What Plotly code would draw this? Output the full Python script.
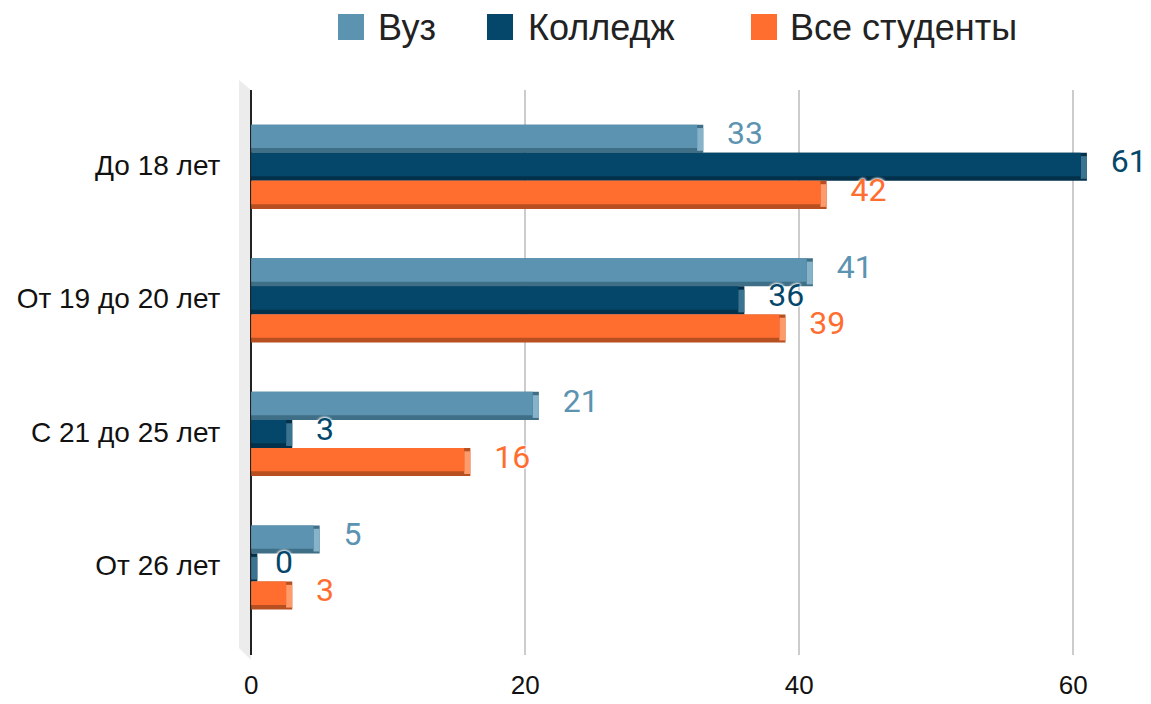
import plotly.graph_objects as go

categories = ["До 18 лет", "От 19 до 20 лет", "С 21 до 25 лет", "От 26 лет"]
series_names = ["Вуз", "Колледж", "Все студенты"]
vuz = [33, 41, 21, 5]
college = [61, 36, 3, 0]
all_students = [42, 39, 16, 3]
x_ticks = [0, 20, 40, 60]

series_values = [vuz, college, all_students]
face_colors = ["#5b93b1", "#05476a", "#ff6d2f"]
strip_colors = ["#3f6f87", "#03304a", "#b84f20"]
side_colors = ["#86b3ca", "#3c7390", "#ff9a6b"]
label_colors = ["#5b93b1", "#05476a", "#ff6d2f"]

# page body has an 8px margin: figure starts at (8, 8) in the window
O = 8
W, H = 1151 - O, 704 - O
# plot area in reference (window) pixels
L_REF, R_REF, T_REF, B_REF = 245, 1128, 90, 655
ML, MT = L_REF - O, T_REF - O
MR, MB = W - (R_REF - O), H - (B_REF - O)
PW, PH = W - ML - MR, H - MT - MB


def px(x):
    return (x - O - ML) / PW


def py(y):
    return (H - MB - (y - O)) / PH


y_pos = list(range(len(categories)))
face_w = 0.175
strip_w = 0.21
offsets = [-0.30, -0.09, 0.12]
side_len = 0.45

fig = go.Figure()
for vals, off, fc, sc, sdc in zip(series_values, offsets, face_colors, strip_colors, side_colors):
    face_vals = [max(v - side_len, 0) for v in vals]
    # darker bottom strip (3D depth)
    fig.add_trace(go.Bar(
        y=y_pos, x=[f + side_len for f in face_vals], orientation="h",
        offset=off, width=strip_w, marker=dict(color=sc, line=dict(width=0)),
        showlegend=False, hoverinfo="skip"))
    # lighter side face at bar end
    fig.add_trace(go.Bar(
        y=y_pos, x=[side_len] * len(vals), base=face_vals, orientation="h",
        offset=off + 0.025, width=strip_w - 0.04, marker=dict(color=sdc, line=dict(width=0)),
        showlegend=False, hoverinfo="skip"))
    # front face
    fig.add_trace(go.Bar(
        y=y_pos, x=face_vals, orientation="h",
        offset=off, width=face_w, marker=dict(color=fc, line=dict(width=0)),
        showlegend=False, hoverinfo="skip"))

# value labels on top
for vals, off, lc in zip(series_values, offsets, label_colors):
    fig.add_trace(go.Scatter(
        y=[p + off + face_w / 2 for p in y_pos], x=vals, mode="text",
        text=["\u00a0\u00a0\u00a0" + str(v) for v in vals],
        textposition="middle right", cliponaxis=False,
        textfont=dict(family="Roboto", size=32, color=lc,
                      shadow="0px 0px 3px white, 0px 0px 3px white, 0px 0px 3px white"),
        showlegend=False, hoverinfo="skip"))

shapes = []
# left 3D wall
wall = f"M {px(239)},{py(80)} L {px(251)},{py(90)} L {px(251)},{py(660)} L {px(239)},{py(648)} Z"
shapes.append(dict(type="path", path=wall, xref="paper", yref="paper",
                   fillcolor="#ececec", line=dict(width=0), layer="below"))

# manual legend
legend_sq_x = [338, 487, 751]
legend_txt_x = [376, 526, 788]
annotations = []
for name, sx, tx, c in zip(series_names, legend_sq_x, legend_txt_x, face_colors):
    shapes.append(dict(type="rect", xref="paper", yref="paper",
                       x0=px(sx), x1=px(sx + 26), y0=py(40), y1=py(14),
                       fillcolor=c, line=dict(width=0)))
    annotations.append(dict(text=name, xref="paper", yref="paper", x=px(tx), y=py(28),
                            xanchor="left", yanchor="middle", showarrow=False,
                            font=dict(family="Liberation Sans", size=36, color="#222222")))

fig.update_layout(
    width=W, height=H,
    margin=dict(l=ML, r=MR, t=MT, b=MB),
    barmode="overlay",
    plot_bgcolor="white", paper_bgcolor="white",
    shapes=shapes, annotations=annotations,
    showlegend=False,
    xaxis=dict(range=[-0.45, 64], tickvals=x_ticks, showgrid=True, gridcolor="#cccccc",
               gridwidth=1.5, zeroline=True, zerolinecolor="#222222", zerolinewidth=2,
               showline=False, ticks="outside", ticklen=7, tickcolor="rgba(0,0,0,0)",
               automargin=False,
               tickfont=dict(family="Liberation Sans", size=26, color="#111111")),
    yaxis=dict(range=[3.67, -0.56], tickvals=y_pos, ticktext=categories, showgrid=False,
               zeroline=False, showline=False, ticks="outside", ticklen=18,
               tickcolor="rgba(0,0,0,0)", automargin=False,
               tickfont=dict(family="Liberation Sans", size=28, color="#111111")),
)

fig.write_html("out.html")
